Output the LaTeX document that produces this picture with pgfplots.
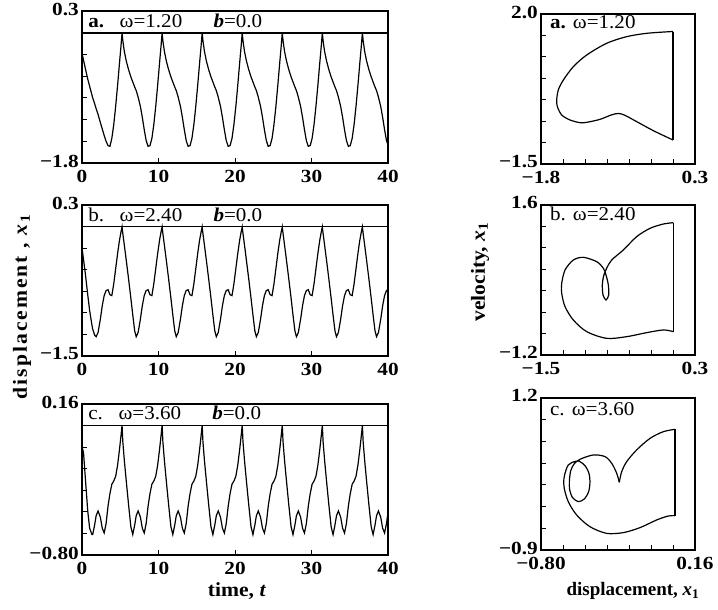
\documentclass[border=0pt]{standalone}
\usepackage{fontspec}
\setmainfont{Liberation Serif}
\usepackage{pgfplots}
\pgfplotsset{compat=1.18}
\usepackage{pgfplotstable}

\newcommand{\tl}{\fontsize{18.5}{18.5}\selectfont\bfseries\addfontfeatures{FakeStretch=1.15}}
\newcommand{\hd}{\fontsize{19.5}{19.5}\selectfont\addfontfeatures{FakeStretch=1.08}}
\newcommand{\lb}{\fontsize{20}{20}\selectfont\bfseries\addfontfeatures{FakeStretch=1.08}}

% time series: t, panel a, panel b, panel c
\pgfplotstableread{
t a b c
0.00 -0.28 -0.21 -0.11
0.20 -0.38 -0.35 -0.15
0.45 -0.50 -0.53 -0.32
0.75 -0.64 -0.77 -0.52
1.00 -0.74 -0.96 -0.63
1.30 -0.86 -1.13 -0.67
1.40 -0.90 -1.18 -0.67
1.65 -0.98 -1.25 -0.61
1.85 -1.05 -1.27 -0.55
2.10 -1.13 -1.22 -0.52
2.40 -1.24 -1.06 -0.56
2.65 -1.33 -0.90 -0.63
2.90 -1.42 -0.78 -0.66
3.15 -1.50 -0.72 -0.60
3.40 -1.56 -0.71 -0.49
3.65 -1.57 -0.77 -0.41
3.90 -1.46 -0.78 -0.35
4.15 -1.27 -0.64 -0.33
4.40 -1.02 -0.46 -0.30
4.65 -0.73 -0.28 -0.23
4.90 -0.42 -0.12 -0.13
5.10 -0.18 -0.02 -0.04
5.236 0.00 0.04 0.025
5.336 -0.11 -0.04 -0.08
5.536 -0.26 -0.18 -0.20
5.786 -0.39 -0.36 -0.33
6.086 -0.51 -0.58 -0.48
6.386 -0.61 -0.81 -0.62
6.636 -0.68 -1.01 -0.67
6.886 -0.75 -1.20 -0.61
7.086 -0.80 -1.27 -0.55
7.336 -0.89 -1.22 -0.52
7.636 -1.02 -1.06 -0.56
7.886 -1.17 -0.90 -0.63
8.136 -1.34 -0.78 -0.66
8.386 -1.49 -0.72 -0.60
8.636 -1.57 -0.71 -0.49
8.886 -1.56 -0.77 -0.41
9.136 -1.46 -0.78 -0.35
9.386 -1.27 -0.64 -0.33
9.636 -1.02 -0.46 -0.30
9.886 -0.73 -0.28 -0.23
10.136 -0.42 -0.12 -0.13
10.336 -0.18 -0.02 -0.04
10.472 0.00 0.04 0.025
10.572 -0.11 -0.04 -0.08
10.772 -0.26 -0.18 -0.20
11.022 -0.39 -0.36 -0.33
11.322 -0.51 -0.58 -0.48
11.622 -0.61 -0.81 -0.62
11.872 -0.68 -1.01 -0.67
12.122 -0.75 -1.20 -0.61
12.322 -0.80 -1.27 -0.55
12.572 -0.89 -1.22 -0.52
12.872 -1.02 -1.06 -0.56
13.122 -1.17 -0.90 -0.63
13.372 -1.34 -0.78 -0.66
13.622 -1.49 -0.72 -0.60
13.872 -1.57 -0.71 -0.49
14.122 -1.56 -0.77 -0.41
14.372 -1.46 -0.78 -0.35
14.622 -1.27 -0.64 -0.33
14.872 -1.02 -0.46 -0.30
15.122 -0.73 -0.28 -0.23
15.372 -0.42 -0.12 -0.13
15.572 -0.18 -0.02 -0.04
15.708 0.00 0.04 0.025
15.808 -0.11 -0.04 -0.08
16.008 -0.26 -0.18 -0.20
16.258 -0.39 -0.36 -0.33
16.558 -0.51 -0.58 -0.48
16.858 -0.61 -0.81 -0.62
17.108 -0.68 -1.01 -0.67
17.358 -0.75 -1.20 -0.61
17.558 -0.80 -1.27 -0.55
17.808 -0.89 -1.22 -0.52
18.108 -1.02 -1.06 -0.56
18.358 -1.17 -0.90 -0.63
18.608 -1.34 -0.78 -0.66
18.858 -1.49 -0.72 -0.60
19.108 -1.57 -0.71 -0.49
19.358 -1.56 -0.77 -0.41
19.608 -1.46 -0.78 -0.35
19.858 -1.27 -0.64 -0.33
20.108 -1.02 -0.46 -0.30
20.358 -0.73 -0.28 -0.23
20.608 -0.42 -0.12 -0.13
20.808 -0.18 -0.02 -0.04
20.944 0.00 0.04 0.025
21.044 -0.11 -0.04 -0.08
21.244 -0.26 -0.18 -0.20
21.494 -0.39 -0.36 -0.33
21.794 -0.51 -0.58 -0.48
22.094 -0.61 -0.81 -0.62
22.344 -0.68 -1.01 -0.67
22.594 -0.75 -1.20 -0.61
22.794 -0.80 -1.27 -0.55
23.044 -0.89 -1.22 -0.52
23.344 -1.02 -1.06 -0.56
23.594 -1.17 -0.90 -0.63
23.844 -1.34 -0.78 -0.66
24.094 -1.49 -0.72 -0.60
24.344 -1.57 -0.71 -0.49
24.594 -1.56 -0.77 -0.41
24.844 -1.46 -0.78 -0.35
25.094 -1.27 -0.64 -0.33
25.344 -1.02 -0.46 -0.30
25.594 -0.73 -0.28 -0.23
25.844 -0.42 -0.12 -0.13
26.044 -0.18 -0.02 -0.04
26.180 0.00 0.04 0.025
26.280 -0.11 -0.04 -0.08
26.480 -0.26 -0.18 -0.20
26.730 -0.39 -0.36 -0.33
27.030 -0.51 -0.58 -0.48
27.330 -0.61 -0.81 -0.62
27.580 -0.68 -1.01 -0.67
27.830 -0.75 -1.20 -0.61
28.030 -0.80 -1.27 -0.55
28.280 -0.89 -1.22 -0.52
28.580 -1.02 -1.06 -0.56
28.830 -1.17 -0.90 -0.63
29.080 -1.34 -0.78 -0.66
29.330 -1.49 -0.72 -0.60
29.580 -1.57 -0.71 -0.49
29.830 -1.56 -0.77 -0.41
30.080 -1.46 -0.78 -0.35
30.330 -1.27 -0.64 -0.33
30.580 -1.02 -0.46 -0.30
30.830 -0.73 -0.28 -0.23
31.080 -0.42 -0.12 -0.13
31.280 -0.18 -0.02 -0.04
31.416 0.00 0.04 0.025
31.516 -0.11 -0.04 -0.08
31.716 -0.26 -0.18 -0.20
31.966 -0.39 -0.36 -0.33
32.266 -0.51 -0.58 -0.48
32.566 -0.61 -0.81 -0.62
32.816 -0.68 -1.01 -0.67
33.066 -0.75 -1.20 -0.61
33.266 -0.80 -1.27 -0.55
33.516 -0.89 -1.22 -0.52
33.816 -1.02 -1.06 -0.56
34.066 -1.17 -0.90 -0.63
34.316 -1.34 -0.78 -0.66
34.566 -1.49 -0.72 -0.60
34.816 -1.57 -0.71 -0.49
35.066 -1.56 -0.77 -0.41
35.316 -1.46 -0.78 -0.35
35.566 -1.27 -0.64 -0.33
35.816 -1.02 -0.46 -0.30
36.066 -0.73 -0.28 -0.23
36.316 -0.42 -0.12 -0.13
36.516 -0.18 -0.02 -0.04
36.652 0.00 0.04 0.025
36.752 -0.11 -0.04 -0.08
36.952 -0.26 -0.18 -0.20
37.202 -0.39 -0.36 -0.33
37.502 -0.51 -0.58 -0.48
37.802 -0.61 -0.81 -0.62
38.052 -0.68 -1.01 -0.67
38.302 -0.75 -1.20 -0.61
38.502 -0.80 -1.27 -0.55
38.752 -0.89 -1.22 -0.52
39.052 -1.02 -1.06 -0.56
39.302 -1.17 -0.90 -0.63
39.552 -1.34 -0.78 -0.66
39.802 -1.49 -0.72 -0.60
40.000 -1.55 -0.71 -0.53
}\tsdata

\pgfplotsset{
  base/.style={scale only axis, axis line style={line width=1.6pt},
    tick align=inside, tick pos=left, major tick length=5pt,
    every tick/.style={black, line width=0.8pt},
    ticklabel style={font=\tl},
    xticklabel style={inner sep=1pt, yshift=-6pt},
    yticklabel style={inner sep=1pt, xshift=-2pt, yshift=2pt}},
  ts/.style={base, width=306pt, xmin=0, xmax=40,
    xtick={0,10,20,30,40}, xticklabels={0,10,20,30,40}},
  ph/.style={base, width=154pt},
  curve/.style={black, line width=1.2pt, no markers},
}

\begin{document}
\begin{tikzpicture}
\path[use as bounding box] (0,0) rectangle (718pt,610pt);

% ---------- time series a ----------
\begin{axis}[ts, at={(82pt,447pt)}, anchor=south west, height=152pt,
  ymin=-1.8, ymax=0.3,
  ytick={-1.8,-1.5,-1.2,-0.9,-0.6,-0.3,0,0.3}, yticklabels={−1.8,,,,,,,0.3}]
\addplot[curve] table[x=t, y=a]{\tsdata};
\draw[line width=1.6pt] (rel axis cs:0,0.857143) -- (rel axis cs:1,0.857143);
\node[anchor=base west, yshift=-17pt, font=\hd, inner sep=0pt] at (rel axis cs:0.02,1)
  {\textbf{a.}\hspace{0.8em}ω=1.20\hspace{1.6em}\textbf{\textit{b}}=0.0};
\end{axis}

% ---------- time series b ----------
\begin{axis}[ts, at={(82pt,254pt)}, anchor=south west, height=151pt,
  ymin=-1.5, ymax=0.3,
  ytick={-1.5,-1.242857,-0.985714,-0.728571,-0.471429,-0.214286,0.042857,0.3},
  yticklabels={−1.5,,,,,,,0.3}]
\addplot[curve] table[x=t, y=b]{\tsdata};
\draw[line width=1.6pt] (rel axis cs:0,0.857143) -- (rel axis cs:1,0.857143);
\node[anchor=base west, yshift=-17pt, font=\hd, inner sep=0pt] at (rel axis cs:0.02,1)
  {b.\hspace{0.8em}ω=2.40\hspace{1.6em}\textbf{\textit{b}}=0.0};
\end{axis}

% ---------- time series c ----------
\begin{axis}[ts, at={(82pt,55pt)}, anchor=south west, height=151pt,
  ymin=-0.8, ymax=0.16,
  ytick={-0.8,-0.662857,-0.525714,-0.388571,-0.251429,-0.114286,0.022857,0.16},
  yticklabels={−0.80,,,,,,,0.16}]
\addplot[curve] table[x=t, y=c]{\tsdata};
\draw[line width=1.6pt] (rel axis cs:0,0.857143) -- (rel axis cs:1,0.857143);
\node[anchor=base west, yshift=-16pt, font=\hd, inner sep=0pt] at (rel axis cs:0.02,1)
  {c.\hspace{0.8em}ω=3.60\hspace{1.6em}\textbf{\textit{b}}=0.0};
\end{axis}

% ---------- phase a ----------
\begin{axis}[ph, at={(541pt,446pt)}, anchor=south west, height=150pt,
  xmin=-1.8, xmax=0.3, ymin=-1.5, ymax=2.0,
  xtick={-1.8,-1.5,-1.2,-0.9,-0.6,-0.3,0,0.3}, xticklabels={−1.8,,,,,,,0.3},
  ytick={-1.5,-1,-0.5,0,0.5,1,1.5,2}, yticklabels={−1.5,,,,,,,2.0}]
\addplot[curve, smooth, tension=0.5] coordinates {
(0,-0.94) (-0.268,-0.722) (-0.495,-0.512) (-0.660,-0.360) (-0.745,-0.322)
(-0.836,-0.352) (-0.995,-0.458) (-1.177,-0.528) (-1.268,-0.536) (-1.405,-0.473)
(-1.518,-0.357) (-1.577,-0.162) (-1.586,-0.007) (-1.564,0.227) (-1.495,0.460)
(-1.359,0.771) (-1.177,1.043) (-0.905,1.316) (-0.632,1.471) (-0.359,1.549)
(-0.041,1.588) (0,1.59)};
\addplot[curve] coordinates {(0,1.59) (0,-0.94)};
\node[anchor=base west, yshift=-15pt, font=\hd, inner sep=0pt] at (rel axis cs:0.058,1)
  {\textbf{a.} ω=1.20};
\end{axis}

% ---------- phase b ----------
\begin{axis}[ph, at={(541pt,255pt)}, anchor=south west, height=150pt,
  xmin=-1.5, xmax=0.3, ymin=-1.2, ymax=1.6,
  xtick={-1.5,-1.242857,-0.985714,-0.728571,-0.471429,-0.214286,0.042857,0.3},
  xticklabels={−1.5,,,,,,,0.3},
  ytick={-1.2,-0.8,-0.4,0,0.4,0.8,1.2,1.6}, yticklabels={−1.2,,,,,,,1.6}]
\addplot[curve, smooth, tension=0.5] coordinates {
(0.047,-0.764) (-0.070,-0.733) (-0.265,-0.783) (-0.499,-0.858) (-0.733,-0.889)
(-0.966,-0.764) (-1.122,-0.547) (-1.219,-0.298) (-1.258,-0.049) (-1.258,0.138)
(-1.219,0.387) (-1.122,0.573) (-1.005,0.623) (-0.849,0.542) (-0.771,0.418)
(-0.740,0.293) (-0.713,0.107) (-0.709,-0.080) (-0.740,-0.173) (-0.775,-0.080)
(-0.783,0.107) (-0.768,0.275) (-0.733,0.418) (-0.674,0.573) (-0.538,0.760)
(-0.382,1.009) (-0.226,1.164) (-0.070,1.245) (0.047,1.270)};
\addplot[curve] coordinates {(0.047,1.270) (0.047,-0.764)};
\node[anchor=base west, yshift=-16pt, font=\hd, inner sep=0pt] at (rel axis cs:0.058,1)
  {b. ω=2.40};
\end{axis}

% ---------- phase c ----------
\begin{axis}[ph, at={(541pt,60pt)}, anchor=south west, height=152pt,
  xmin=-0.8, xmax=0.16, ymin=-0.9, ymax=1.2,
  xtick={-0.8,-0.662857,-0.525714,-0.388571,-0.251429,-0.114286,0.022857,0.16},
  xticklabels={−0.80,,,,,,,0.16},
  ytick={-0.9,-0.6,-0.3,0,0.3,0.6,0.9,1.2}, yticklabels={−0.9,,,,,,,1.2}]
\addplot[curve, smooth, tension=0.5] coordinates {
(0.035,-0.426) (-0.006,-0.430) (-0.079,-0.485) (-0.183,-0.591) (-0.287,-0.660)
(-0.391,-0.670) (-0.495,-0.578) (-0.578,-0.416) (-0.630,-0.232) (-0.655,-0.048)
(-0.657,0.090) (-0.644,0.205) (-0.630,0.274) (-0.609,0.307) (-0.567,0.330)
(-0.526,0.265) (-0.501,0.159) (-0.495,0.035) (-0.503,-0.094) (-0.530,-0.195)
(-0.567,-0.232) (-0.603,-0.177) (-0.621,-0.071) (-0.623,0.053) (-0.615,0.192)
(-0.594,0.288) (-0.557,0.353) (-0.474,0.413) (-0.401,0.390) (-0.359,0.297)
(-0.328,0.159) (-0.312,0.035)};
\addplot[curve, smooth, tension=0.5] coordinates {
(-0.312,0.035) (-0.297,0.182) (-0.266,0.320) (-0.204,0.482) (-0.120,0.643)
(-0.037,0.735) (0.035,0.767)};
\addplot[curve] coordinates {(0.035,0.767) (0.035,-0.426)};
\node[anchor=base west, yshift=-18pt, font=\hd, inner sep=0pt] at (rel axis cs:0.058,1)
  {c. ω=3.60};
\end{axis}

% ---------- axis titles ----------
\node[rotate=90, font=\lb] at (22pt,303pt)
  {\addfontfeatures{LetterSpace=10}displacement , \textit{x}\textsubscript{\bfseries 1}};
\node[rotate=90, font=\lb] at (480pt,338pt) {velocity, \textit{x}\textsubscript{\bfseries 1}};
\node[font=\lb] at (237pt,19pt) {time, \textit{t}};
\node[font=\fontsize{19}{19}\selectfont\bfseries] at (633pt,19pt) {displacement, \textit{x}\textsubscript{\bfseries 1}};
\end{tikzpicture}
\end{document}
